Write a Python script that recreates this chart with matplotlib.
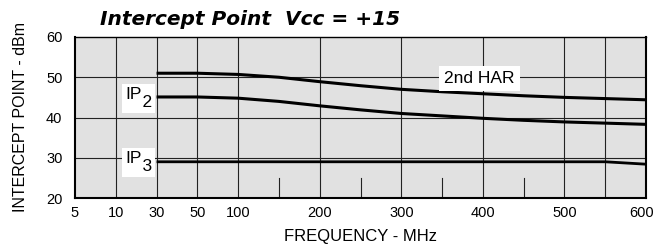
import numpy as np
import matplotlib
matplotlib.use("Agg")
import matplotlib.pyplot as plt
import matplotlib.transforms as mtransforms

plt.rcParams['font.family'] = ['Liberation Sans', 'DejaVu Sans']

# ---- data ----
tick_freqs = [5, 10, 30, 50, 100, 150, 200, 250, 300, 350, 400, 450, 500, 550, 600]
labeled_ticks = [5, 10, 30, 50, 100, 200, 300, 400, 500, 600]
grid_freqs = [10, 30, 50, 100, 200, 300, 400, 500, 550]
short_tick_freqs = [150, 250, 350, 450]
y_ticks = [20, 30, 40, 50, 60]

freq = [30, 50, 100, 150, 200, 250, 300, 350, 400, 450, 500, 550, 600]
har2 = [51.0, 51.0, 50.7, 50.0, 48.9, 47.9, 47.0, 46.4, 45.9, 45.4, 45.0, 44.7, 44.4]
ip2 = [45.1, 45.1, 44.8, 44.0, 42.9, 41.9, 41.0, 40.4, 39.8, 39.3, 38.9, 38.6, 38.3]
ip3 = [29.0, 29.0, 29.0, 29.0, 29.0, 29.0, 29.0, 29.0, 29.0, 29.0, 29.0, 29.0, 28.4]

# ---- scale: tick values equally spaced ----
tick_pos = np.arange(len(tick_freqs), dtype=float)
def fwd(x):
    return np.interp(x, tick_freqs, tick_pos)
def inv(p):
    return np.interp(p, tick_pos, tick_freqs)

fig = plt.figure(figsize=(6.54, 2.44), dpi=100)
ax = fig.add_axes([75/654, 1-198/244, 571/654, 161/244])
ax.set_xscale('function', functions=(fwd, inv))
ax.set_xlim(5, 600)
ax.set_ylim(20, 60)
ax.set_facecolor('#e1e1e1')

gc = '#222222'
for f in grid_freqs:
    ax.axvline(f, color=gc, lw=0.8, zorder=1)
for y in [30, 40, 50]:
    ax.axhline(y, color=gc, lw=0.8, zorder=1)
for f in short_tick_freqs:
    ax.plot([f, f], [20, 25], color=gc, lw=0.8, zorder=1)

ax.plot(freq, har2, color='black', lw=2.2, zorder=3, solid_capstyle='butt')
ax.plot(freq, ip2, color='black', lw=2.2, zorder=3, solid_capstyle='butt')
ax.plot(freq, ip3, color='black', lw=2.0, zorder=3, solid_capstyle='butt')

ax.set_xticks(labeled_ticks)
ax.set_xticklabels([str(t) for t in labeled_ticks])
ax.set_yticks(y_ticks)
ax.tick_params(axis='both', length=0, labelsize=10.5)
ax.tick_params(axis='y', pad=9)
ax.tick_params(axis='x', pad=6)
# last x tick label shifted left to stay inside the figure
last = ax.get_xticklabels()[-1]
last.set_transform(last.get_transform() +
                   mtransforms.ScaledTranslation(-4/100, 0, fig.dpi_scale_trans))

for s in ['left', 'right', 'bottom']:
    ax.spines[s].set_linewidth(1.5)
ax.spines['top'].set_linewidth(1.0)

ax.set_xlabel('FREQUENCY - MHz', fontsize=12, labelpad=6)
ax.set_ylabel('INTERCEPT POINT - dBm', fontsize=11.5, labelpad=13)

# ---- labels ----
def ax_xy(px, py):
    return ((px - 75) / 571, (198 - py) / 161)

lfs = 12.5
for sub, (bx, by) in [('2', (125, 107)), ('3', (125, 171))]:
    x0, y0 = ax_xy(bx, by)
    ax.text(x0, y0, 'IP\n\u2002\u2002' + sub, transform=ax.transAxes, fontsize=lfs,
            va='baseline', ha='left', multialignment='left', linespacing=0.45,
            bbox=dict(boxstyle='square,pad=0.15', fc='white', ec='none'), zorder=5)

x2, y2 = ax_xy(444, 83)
ax.text(x2, y2, '2nd HAR', transform=ax.transAxes, fontsize=lfs,
        va='baseline', ha='left', bbox=dict(boxstyle='square,pad=0.3', fc='white', ec='none'), zorder=5)

fig.text(100/654, 1-25/244, 'Intercept Point  Vcc = +15', fontsize=14.5,
         family=['DejaVu Sans'], fontweight='bold', fontstyle='italic',
         va='baseline', ha='left')

fig.savefig('out.png', dpi=100)
